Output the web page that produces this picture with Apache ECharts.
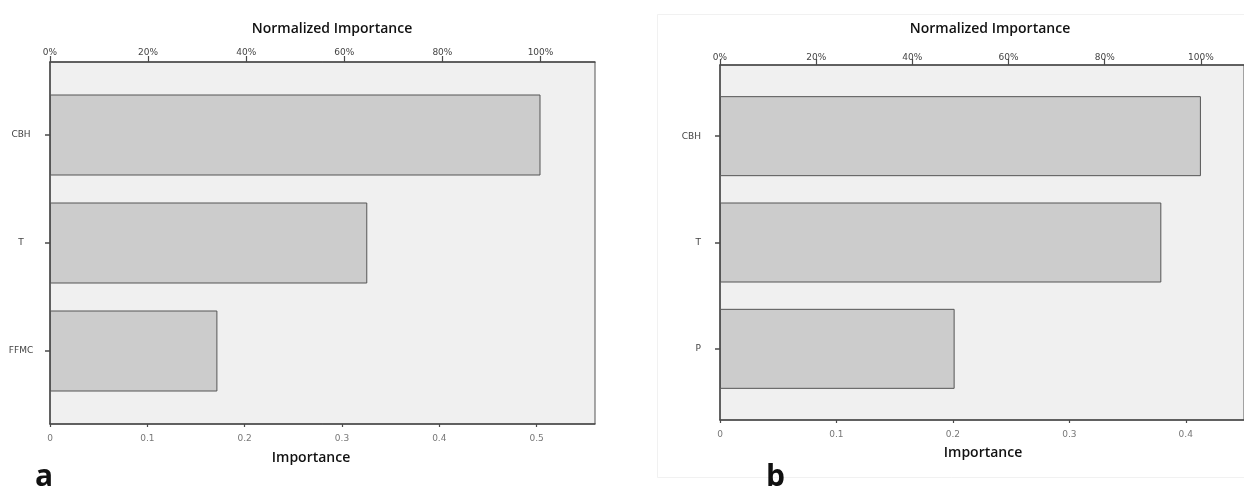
<!DOCTYPE html>
<html>
<head>
<meta charset="utf-8">
<script src="https://cdn.jsdelivr.net/npm/echarts@6/dist/echarts.min.js"></script>
<style>
  html, body { margin: 0; padding: 0; background: #ffffff; }
  #chart { width: 1244px; height: 487px; }
</style>
</head>
<body>
<div id="chart"></div>
<script>
// ---- data ----
const categoriesA = ['CBH', 'T', 'FFMC'];
const importanceA = [0.504, 0.326, 0.172];
const categoriesB = ['CBH', 'T', 'P'];
const importanceB = [0.413, 0.379, 0.2015];
const importanceTicksA = [0, 0.1, 0.2, 0.3, 0.4, 0.5];
const importanceTicksB = [0, 0.1, 0.2, 0.3, 0.4];
const percentTicks = [0, 20, 40, 60, 80, 100];
const topTitle = 'Normalized Importance';
const bottomTitle = 'Importance';
const panelLetters = ['a', 'b'];

// ---- layout/style ----
const maxA = 0.56, maxB = 0.45;
const pctMaxA = maxA / Math.max(...importanceA) * 100;
const pctMaxB = maxB / Math.max(...importanceB) * 100;
const AX = '#4a4a4a';
const labelFont = { fontFamily: 'DejaVu Sans', fontSize: 9 };

function impFmt(v) { return v === 0 ? '0' : v.toFixed(1); }

function boxAxes(gridIndex, max, pctMax, ticks, bottomMargin, topMargin) {
  return [
    { // bottom importance axis
      type: 'value', gridIndex, position: 'bottom', min: 0, max,
      axisLine: { show: true, onZero: false, lineStyle: { color: AX, width: 1.5 } },
      axisTick: { show: true, length: 3, customValues: ticks, lineStyle: { color: AX, width: 1.2 } },
      axisLabel: { show: true, customValues: ticks, formatter: impFmt, margin: bottomMargin, color: '#777', ...labelFont },
      splitLine: { show: false }
    },
    { // top normalized axis
      type: 'value', gridIndex, position: 'top', min: 0, max: pctMax,
      axisLine: { show: true, onZero: false, lineStyle: { color: AX, width: 1.5 } },
      axisTick: { show: true, length: 6, customValues: percentTicks, lineStyle: { color: AX, width: 1.2 } },
      axisLabel: { show: true, customValues: percentTicks, formatter: v => v + '%', margin: topMargin, color: '#444', ...labelFont },
      splitLine: { show: false }
    }
  ];
}

const option = {
  animation: false,
  backgroundColor: '#ffffff',
  grid: [
    { left: 50, top: 62, width: 545, height: 362, show: true, backgroundColor: '#f0f0f0', borderColor: '#555', borderWidth: 1 },
    { left: 50, top: 81, width: 545, height: 324 },
    { left: 720, top: 65, width: 527, height: 355, show: true, backgroundColor: '#f0f0f0', borderColor: '#555', borderWidth: 1 },
    { left: 720, top: 83, width: 527, height: 319 }
  ],
  xAxis: [
    ...boxAxes(0, maxA, pctMaxA, importanceTicksA, 10, 5),
    { type: 'value', gridIndex: 1, min: 0, max: maxA, show: false },
    ...boxAxes(2, maxB, pctMaxB, importanceTicksB, 10, 3),
    { type: 'value', gridIndex: 3, min: 0, max: maxB, show: false }
  ],
  yAxis: [
    { type: 'value', gridIndex: 0, min: 0, max: 1,
      axisLine: { show: true, onZero: false, lineStyle: { color: AX, width: 1.5 } },
      axisTick: { show: false }, axisLabel: { show: false }, splitLine: { show: false } },
    { type: 'category', gridIndex: 1, data: categoriesA, inverse: true,
      axisLine: { show: false },
      axisTick: { show: true, alignWithLabel: true, length: 5, lineStyle: { color: AX, width: 1.5 } },
      axisLabel: { align: 'center', margin: 29, color: '#444', padding: [0, 0, 8, 0], ...labelFont },
      splitLine: { show: false } },
    { type: 'value', gridIndex: 2, min: 0, max: 1,
      axisLine: { show: true, onZero: false, lineStyle: { color: AX, width: 1.5 } },
      axisTick: { show: false }, axisLabel: { show: false }, splitLine: { show: false } },
    { type: 'category', gridIndex: 3, data: categoriesB, inverse: true,
      axisLine: { show: false },
      axisTick: { show: true, alignWithLabel: true, length: 5, lineStyle: { color: AX, width: 1.5 } },
      axisLabel: { align: 'right', margin: 19, color: '#444', padding: [0, 0, 8, 0], ...labelFont },
      splitLine: { show: false } }
  ],
  series: [
    { type: 'bar', xAxisIndex: 2, yAxisIndex: 1, data: importanceA, barWidth: 81,
      itemStyle: { color: '#cccccc', borderColor: '#555', borderWidth: 1 } },
    { type: 'bar', xAxisIndex: 5, yAxisIndex: 3, data: importanceB, barWidth: 80,
      itemStyle: { color: '#cccccc', borderColor: '#555', borderWidth: 1 } }
  ],
  graphic: [
    { type: 'rect', shape: { x: 657.5, y: 14.5, width: 600, height: 463 }, silent: true, z: -10,
      style: { fill: 'none', stroke: '#f1f1f1', lineWidth: 1 } },
    { type: 'text', x: 332, y: 29, style: { text: topTitle, align: 'center', verticalAlign: 'middle', font: '600 14px "Open Sans"', fill: '#111' } },
    { type: 'text', x: 990, y: 29, style: { text: topTitle, align: 'center', verticalAlign: 'middle', font: '600 14px "Open Sans"', fill: '#111' } },
    { type: 'text', x: 311, y: 458, style: { text: bottomTitle, align: 'center', verticalAlign: 'middle', font: '600 14px "Open Sans"', fill: '#111' } },
    { type: 'text', x: 983, y: 453, style: { text: bottomTitle, align: 'center', verticalAlign: 'middle', font: '600 14px "Open Sans"', fill: '#111' } },
    { type: 'text', x: 35, y: 492, style: { text: panelLetters[0], align: 'left', verticalAlign: 'bottom', font: 'bold 30px "Open Sans"', fill: '#111' } },
    { type: 'text', x: 766, y: 492, style: { text: panelLetters[1], align: 'left', verticalAlign: 'bottom', font: 'bold 30px "Open Sans"', fill: '#111' } }
  ]
};

const chart = echarts.init(document.getElementById('chart'), null, { renderer: 'canvas' });
chart.setOption(option);
</script>
</body>
</html>
